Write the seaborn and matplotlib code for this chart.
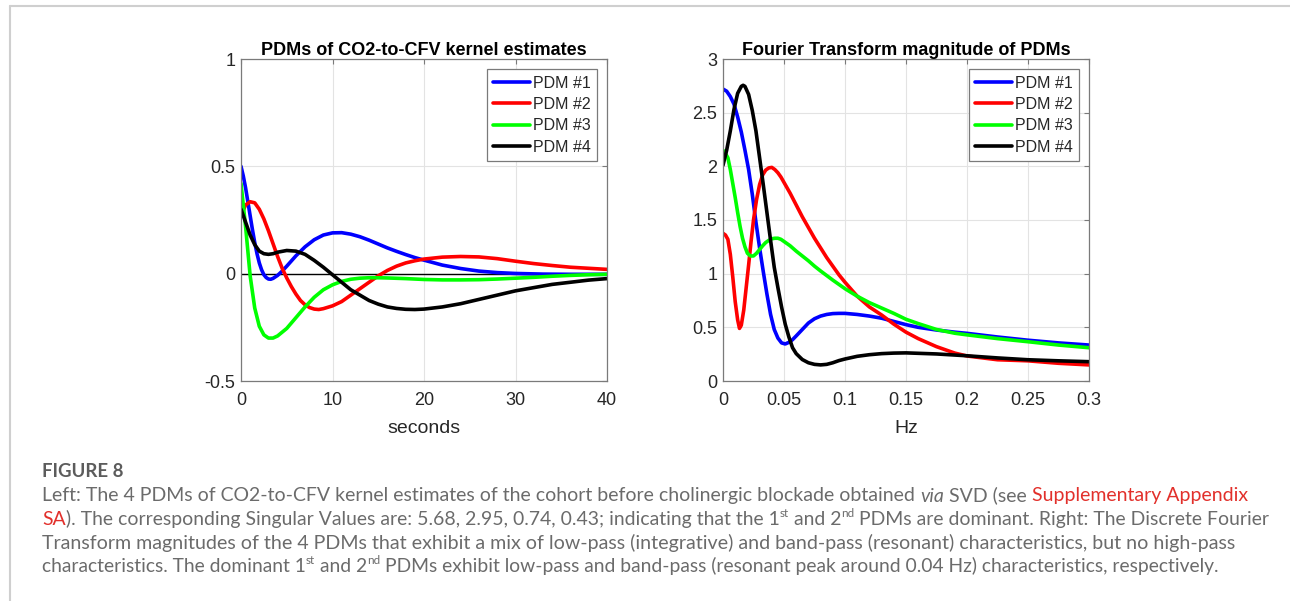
import matplotlib
matplotlib.use("Agg")
import matplotlib.pyplot as plt
import seaborn as sns
import pandas as pd
from matplotlib.lines import Line2D

W, H, DPI = 1290, 601, 100

# ---------------------------------------------------------------- data
pdm_names = ["PDM #1", "PDM #2", "PDM #3", "PDM #4"]
pdm_colors = ["#0000ff", "#ff0000", "#00ff00", "#000000"]

# PDM kernels in the time domain (seconds, amplitude)
t_pdm1 = [0, 0.25, 0.5, 0.75, 1, 1.25, 1.5, 1.75, 2, 2.25, 2.5, 2.75, 3, 3.25, 3.5, 4, 4.5, 5,
          6, 7, 8, 9, 10, 11, 12, 13, 14, 15, 16, 17, 18, 19, 20, 22, 24, 26, 28, 30, 33, 36, 40]
v_pdm1 = [0.50, 0.455, 0.40, 0.335, 0.27, 0.205, 0.145, 0.093, 0.05, 0.018, -0.005, -0.018, -0.025,
          -0.026, -0.022, -0.008, 0.012, 0.035, 0.083, 0.125, 0.158, 0.180, 0.190, 0.191, 0.184,
          0.172, 0.156, 0.138, 0.120, 0.104, 0.089, 0.075, 0.063, 0.040, 0.024, 0.012, 0.005,
          0.001, -0.002, -0.003, -0.003]

t_pdm2 = [0, 0.5, 1, 1.5, 2, 2.5, 3, 3.5, 4, 4.5, 5, 5.5, 6, 6.5, 7, 7.5, 8, 8.5, 9, 10, 11, 12,
          13, 14, 15, 16, 17, 18, 19, 20, 22, 24, 26, 28, 30, 32, 34, 36, 38, 40]
v_pdm2 = [0.27, 0.32, 0.335, 0.33, 0.30, 0.255, 0.20, 0.14, 0.08, 0.025, -0.02, -0.06, -0.095,
          -0.125, -0.145, -0.158, -0.165, -0.167, -0.163, -0.15, -0.13, -0.10, -0.07, -0.04,
          -0.01, 0.015, 0.035, 0.05, 0.06, 0.068, 0.077, 0.08, 0.078, 0.07, 0.058, 0.047, 0.038,
          0.030, 0.025, 0.02]

t_pdm3 = [0, 0.5, 1, 1.5, 2, 2.5, 3, 3.5, 4, 5, 6, 7, 8, 9, 10, 11, 12, 13, 14, 15, 16, 18, 20,
          22, 24, 26, 28, 30, 32, 34, 36, 38, 40]
v_pdm3 = [0.42, 0.22, -0.01, -0.16, -0.245, -0.285, -0.30, -0.30, -0.29, -0.255, -0.205, -0.155,
          -0.11, -0.075, -0.052, -0.036, -0.026, -0.021, -0.019, -0.019, -0.020, -0.023, -0.027,
          -0.029, -0.029, -0.028, -0.025, -0.021, -0.017, -0.012, -0.008, -0.005, -0.003]

t_pdm4 = [0, 0.5, 1, 1.5, 2, 2.5, 3, 3.5, 4, 5, 6, 7, 8, 9, 10, 11, 12, 13, 14, 15, 16, 17, 18,
          19, 20, 22, 24, 26, 28, 30, 32, 34, 36, 38, 40]
v_pdm4 = [0.30, 0.24, 0.18, 0.135, 0.105, 0.093, 0.09, 0.093, 0.10, 0.108, 0.105, 0.09, 0.062,
          0.03, -0.005, -0.04, -0.075, -0.10, -0.125, -0.142, -0.155, -0.162, -0.166, -0.167,
          -0.165, -0.155, -0.14, -0.12, -0.10, -0.08, -0.065, -0.05, -0.04, -0.03, -0.023]

# Fourier transform magnitudes (Hz, magnitude)
f_pdm1 = [0, 0.003, 0.006, 0.009, 0.012, 0.015, 0.018, 0.021, 0.024, 0.027, 0.030, 0.033, 0.036,
          0.039, 0.042, 0.045, 0.048, 0.051, 0.054, 0.057, 0.060, 0.065, 0.070, 0.075, 0.080,
          0.085, 0.090, 0.095, 0.100, 0.110, 0.120, 0.130, 0.140, 0.150, 0.160, 0.175, 0.190,
          0.200, 0.225, 0.250, 0.275, 0.300]
m_pdm1 = [2.72, 2.70, 2.65, 2.58, 2.46, 2.32, 2.15, 1.97, 1.74, 1.48, 1.24, 1.02, 0.81, 0.62,
          0.48, 0.40, 0.355, 0.345, 0.36, 0.385, 0.42, 0.48, 0.54, 0.58, 0.605, 0.62, 0.628,
          0.63, 0.63, 0.62, 0.605, 0.585, 0.555, 0.525, 0.50, 0.475, 0.455, 0.444, 0.41, 0.38,
          0.355, 0.335]

f_pdm2 = [0, 0.002, 0.004, 0.006, 0.008, 0.010, 0.012, 0.0135, 0.015, 0.017, 0.019, 0.021,
          0.023, 0.025, 0.0275, 0.030, 0.0325, 0.035, 0.0375, 0.040, 0.0425, 0.045, 0.0475,
          0.050, 0.055, 0.060, 0.065, 0.070, 0.075, 0.080, 0.085, 0.090, 0.095, 0.100, 0.110,
          0.120, 0.130, 0.140, 0.150, 0.160, 0.175, 0.190, 0.200, 0.225, 0.250, 0.275, 0.300]
m_pdm2 = [1.376, 1.36, 1.32, 1.18, 0.97, 0.74, 0.57, 0.49, 0.52, 0.66, 0.87, 1.08, 1.30, 1.50,
          1.69, 1.83, 1.92, 1.965, 1.985, 1.99, 1.97, 1.94, 1.90, 1.85, 1.75, 1.64, 1.53, 1.43,
          1.33, 1.24, 1.15, 1.07, 0.99, 0.92, 0.79, 0.69, 0.615, 0.53, 0.455, 0.395, 0.32, 0.26,
          0.233, 0.198, 0.188, 0.165, 0.15]

f_pdm3 = [0, 0.002, 0.004, 0.006, 0.008, 0.010, 0.012, 0.014, 0.016, 0.018, 0.020, 0.0225,
          0.025, 0.0275, 0.030, 0.0325, 0.035, 0.0375, 0.040, 0.0425, 0.045, 0.0475, 0.050,
          0.055, 0.060, 0.065, 0.070, 0.075, 0.080, 0.090, 0.100, 0.110, 0.120, 0.130, 0.140,
          0.150, 0.160, 0.175, 0.190, 0.200, 0.225, 0.250, 0.275, 0.300]
m_pdm3 = [2.15, 2.12, 2.08, 1.97, 1.84, 1.71, 1.57, 1.44, 1.33, 1.25, 1.19, 1.165, 1.165, 1.19,
          1.225, 1.26, 1.29, 1.31, 1.325, 1.33, 1.33, 1.32, 1.30, 1.26, 1.21, 1.165, 1.12, 1.07,
          1.025, 0.94, 0.86, 0.79, 0.73, 0.68, 0.63, 0.575, 0.535, 0.48, 0.445, 0.43, 0.395,
          0.366, 0.335, 0.31]

f_pdm4 = [0, 0.003, 0.006, 0.009, 0.012, 0.015, 0.0165, 0.018, 0.021, 0.024, 0.027, 0.030,
          0.033, 0.036, 0.039, 0.042, 0.045, 0.048, 0.051, 0.054, 0.057, 0.060, 0.065, 0.070,
          0.075, 0.080, 0.085, 0.090, 0.095, 0.100, 0.110, 0.120, 0.130, 0.140, 0.150, 0.175,
          0.200, 0.225, 0.250, 0.275, 0.300]
m_pdm4 = [2.01, 2.15, 2.33, 2.53, 2.68, 2.745, 2.755, 2.745, 2.67, 2.52, 2.33, 2.08, 1.83, 1.57,
          1.31, 1.06, 0.87, 0.69, 0.53, 0.41, 0.31, 0.255, 0.20, 0.17, 0.155, 0.150, 0.155, 0.17,
          0.19, 0.205, 0.23, 0.245, 0.255, 0.26, 0.262, 0.252, 0.235, 0.215, 0.198, 0.188, 0.18]

left_xticks = [0, 10, 20, 30, 40]
left_xticklabels = ["0", "10", "20", "30", "40"]
left_yticks = [-0.5, 0, 0.5, 1]
left_yticklabels = ["-0.5", "0", "0.5", "1"]
right_xticks = [0, 0.05, 0.1, 0.15, 0.2, 0.25, 0.3]
right_xticklabels = ["0", "0.05", "0.1", "0.15", "0.2", "0.25", "0.3"]
right_yticks = [0, 0.5, 1, 1.5, 2, 2.5, 3]
right_yticklabels = ["0", "0.5", "1", "1.5", "2", "2.5", "3"]

left_title = "PDMs of CO2-to-CFV kernel estimates"
right_title = "Fourier Transform magnitude of PDMs"
left_xlabel = "seconds"
right_xlabel = "Hz"

caption_head = "FIGURE 8"
caption_lines = [
    [("Left: The 4 PDMs of CO2-to-CFV kernel estimates of the cohort before cholinergic "
      "blockade obtained ", "n"), ("via", "i"), (" SVD (see ", "n"),
     ("Supplementary Appendix", "link")],
    [("SA", "link"), ("). The corresponding Singular Values are: 5.68, 2.95, 0.74, 0.43; "
                      "indicating that the 1", "n"), ("st", "sup"), (" and 2", "n"),
     ("nd", "sup"), (" PDMs are dominant. Right: The Discrete Fourier", "n")],
    [("Transform magnitudes of the 4 PDMs that exhibit a mix of low-pass (integrative) and "
      "band-pass (resonant) characteristics, but no high-pass", "n")],
    [("characteristics. The dominant 1", "n"), ("st", "sup"), (" and 2", "n"), ("nd", "sup"),
     (" PDMs exhibit low-pass and band-pass (resonant peak around 0.04 Hz) characteristics, "
      "respectively.", "n")],
]
# right edge (px) of each caption line as typeset
caption_line_ends = [1246, 1261, 1230, 1218]


def long_frame(xs, ys, xname):
    parts = [pd.DataFrame({xname: x, "value": y, "PDM": n})
             for x, y, n in zip(xs, ys, pdm_names)]
    return pd.concat(parts, ignore_index=True)


df_time = long_frame([t_pdm1, t_pdm2, t_pdm3, t_pdm4],
                     [v_pdm1, v_pdm2, v_pdm3, v_pdm4], "seconds")
df_freq = long_frame([f_pdm1, f_pdm2, f_pdm3, f_pdm4],
                     [m_pdm1, m_pdm2, m_pdm3, m_pdm4], "Hz")

# ---------------------------------------------------------------- style
sns.set_style("white")
plt.rcParams["font.family"] = ["Liberation Sans", "DejaVu Sans"]
AX_COLOR = "#7a7a7a"
TXT_COLOR = "#262626"
LW = 2.6

fig = plt.figure(figsize=(W / DPI, H / DPI), dpi=DPI)
fig.patch.set_facecolor("white")

# page frame lines
fig.add_artist(Line2D([9.5 / W, 1.0], [1 - 5.5 / H, 1 - 5.5 / H], transform=fig.transFigure,
                      color="#cfcfcf", lw=1.5))
fig.add_artist(Line2D([9.5 / W, 9.5 / W], [0.0, 1 - 5.5 / H], transform=fig.transFigure,
                      color="#cfcfcf", lw=1.5))

ax1 = fig.add_axes([241 / W, 1 - 381 / H, 366 / W, 322 / H])
ax2 = fig.add_axes([723 / W, 1 - 381 / H, 366 / W, 322 / H])

ax1.axhline(0, color="black", lw=1.0, zorder=1)
sns.lineplot(data=df_time, x="seconds", y="value", hue="PDM", palette=pdm_colors,
             estimator=None, sort=False, lw=LW, legend=False, ax=ax1, zorder=2)
sns.lineplot(data=df_freq, x="Hz", y="value", hue="PDM", palette=pdm_colors,
             estimator=None, sort=False, lw=LW, legend=False, ax=ax2, zorder=2)


def style_axes(ax, xlim, ylim, xt, xtl, yt, ytl, title, xlabel):
    ax.set_xlim(*xlim)
    ax.set_ylim(*ylim)
    ax.set_xticks(xt)
    ax.set_xticklabels(xtl)
    ax.set_yticks(yt)
    ax.set_yticklabels(ytl)
    ax.grid(True, color="#e3e3e3", lw=0.8)
    ax.set_axisbelow(True)
    for s in ax.spines.values():
        s.set_visible(True)
        s.set_color(AX_COLOR)
        s.set_linewidth(0.9)
    ax.tick_params(direction="in", top=True, right=True, length=3.5, width=0.8,
                   color=AX_COLOR, labelcolor=TXT_COLOR, labelsize=13)
    ax.tick_params(axis="x", pad=8)
    ax.tick_params(axis="y", pad=4)
    ax.set_title(title, fontsize=13, fontweight="bold", color="black", pad=3)
    ax.set_xlabel(xlabel, fontsize=14, color=TXT_COLOR, labelpad=8)
    ax.set_ylabel("")
    handles = [Line2D([], [], color=c, lw=LW) for c in pdm_colors]
    leg = ax.legend(handles, pdm_names, loc="upper right", fontsize=11.5, frameon=True,
                    fancybox=False, framealpha=1, edgecolor=AX_COLOR, handlelength=2.3,
                    handletextpad=0.15, borderpad=0.42, labelspacing=0.4,
                    borderaxespad=0.62)
    leg.get_frame().set_linewidth(0.9)
    for t in leg.get_texts():
        t.set_color(TXT_COLOR)


style_axes(ax1, (0, 40), (-0.5, 1), left_xticks, left_xticklabels, left_yticks,
           left_yticklabels, left_title, left_xlabel)
style_axes(ax2, (0, 0.3), (0, 3), right_xticks, right_xticklabels, right_yticks,
           right_yticklabels, right_title, right_xlabel)

# ---------------------------------------------------------------- caption
renderer = fig.canvas.get_renderer()
CAP_FAMILY = ["Lato", "DejaVu Sans"]
CAP_GRAY = "#6b6b6b"
LINK_RED = "#e2302b"


def text_width(s, **kw):
    t = fig.text(0, 0, s, **kw)
    w = t.get_window_extent(renderer).width
    t.remove()
    return w


def advance(s, **kw):
    # pen advance of a string, bracketed so side bearings and spaces count
    return text_width("I" + s + "I", **kw) - text_width("II", **kw)


def run_kw(style, size):
    kw = dict(fontsize=size, family=CAP_FAMILY, color=CAP_GRAY)
    if style == "i":
        kw["style"] = "italic"
    elif style == "link":
        kw["color"] = LINK_RED
    elif style == "sup":
        kw["fontsize"] = size * 0.6
    return kw


def draw_runs(runs, x0, baseline, size, draw=True):
    x = x0
    space = advance(" ", fontsize=size, family=CAP_FAMILY)
    for text, style in runs:
        kw = run_kw(style, size)
        rise = size * 0.42 * DPI / 72 if style == "sup" else 0.0
        body = text.strip(" ")
        lead = len(text) - len(text.lstrip(" "))
        trail = len(text) - len(text.rstrip(" "))
        x += lead * space
        if draw and body:
            fig.text(x / W, 1 - (baseline - rise) / H, body, ha="left", va="baseline", **kw)
        x += advance(body, **kw) + trail * space
    return x


X0 = 42
base_size = 12.0

head_w = advance(caption_head, fontsize=12, family=CAP_FAMILY, fontweight="bold")
head_size = 12 * 81.5 / head_w
fig.text(X0 / W, 1 - 477 / H, caption_head, ha="left", va="baseline", fontsize=head_size,
         family=CAP_FAMILY, fontweight="bold", color="#5c5c5c")

for i, (runs, x_end) in enumerate(zip(caption_lines, caption_line_ends)):
    natural = draw_runs(runs, 0, 0, base_size, draw=False)
    size = base_size * (x_end - X0) / natural
    draw_runs(runs, X0, 501.5 + 23.5 * i, size)

fig.savefig("out.png", dpi=DPI, facecolor="white")
